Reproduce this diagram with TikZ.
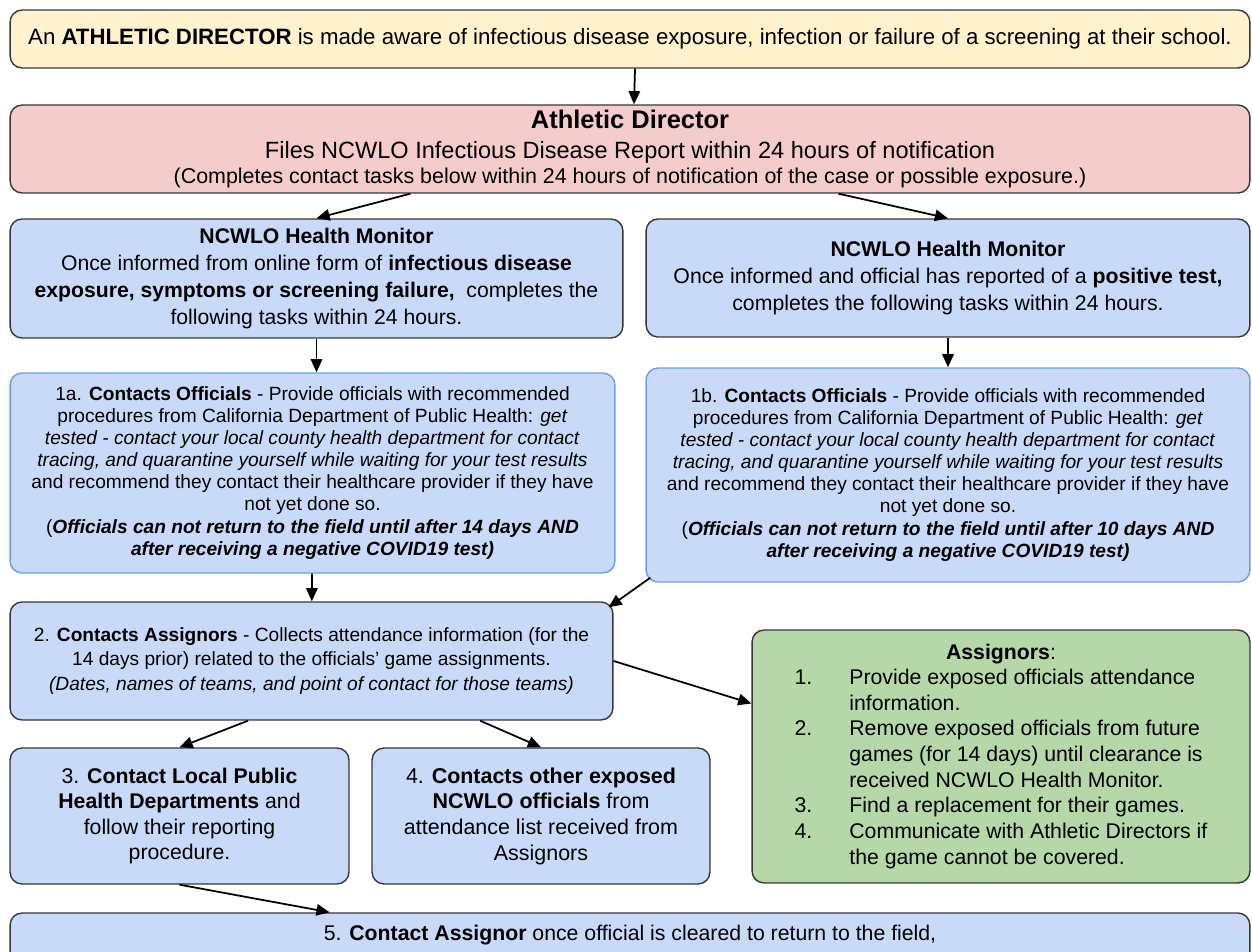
\documentclass[tikz,border=0pt]{standalone}
\usepackage{fontspec}
\setmainfont{Liberation Sans}
\usetikzlibrary{arrows.meta,calc}
\definecolor{Notice}{RGB}{255,242,204}
\definecolor{Director}{RGB}{244,204,204}
\definecolor{Monitor}{RGB}{201,218,248}
\definecolor{Assign}{RGB}{182,215,168}
\definecolor{Edge}{RGB}{55,55,55}
\definecolor{Rim}{RGB}{109,158,235}
\newcommand{\fsz}[2]{\fontsize{#1}{#2}\selectfont}

\begin{document}
\begin{tikzpicture}[x=0.02cm,y=-0.02cm,
  box/.style={draw=Edge,line width=0.8pt,rounded corners=0.24cm,align=center,inner sep=0pt},
  flow/.style={-{Triangle[length=7.5pt,width=6.5pt]},line width=1pt}]
\useasboundingbox (0,0) rectangle (1252,952);

% top notice and director
\node[box,fill=Notice,minimum width=24.8cm,minimum height=1.16cm,font=\fsz{12.65}{15}] (aware) at (630,39)
  {An \textbf{ATHLETIC DIRECTOR} is made aware of infectious disease exposure, infection or failure of a screening at their school.};
\node[box,fill=Director,minimum width=24.8cm,minimum height=1.76cm,font=\fsz{13.4}{17}] (ad) at (630,149)
  {{\fsz{14.5}{17}\textbf{Athletic Director}}\\
   Files NCWLO Infectious Disease Report within 24 hours of notification\\[-2.8pt]
   {\fsz{12.2}{14.3}(Completes contact tasks below within 24 hours of notification of the case or possible exposure.)}};

% health monitor, two cases
\node[box,fill=Monitor,minimum width=12.26cm,minimum height=2.38cm,font=\fsz{12.05}{15.4}] (hmL) at (316.5,278.5)
  {\textbf{NCWLO Health Monitor}\\
   Once informed from online form of \textbf{infectious disease}\\
   \textbf{exposure, symptoms or screening failure,}\ \ completes the\\
   following tasks within 24 hours.};
\node[box,fill=Monitor,minimum width=12.08cm,minimum height=2.36cm,font=\fsz{12.1}{15.4}] (hmR) at (948,278)
  {\textbf{NCWLO Health Monitor}\\
   Once informed and official has reported of a \textbf{positive test,}\\
   completes the following tasks within 24 hours.};

% step 1a / 1b
\node[box,draw=Rim,fill=Monitor,minimum width=12.1cm,minimum height=4cm,font=\fsz{10.9}{12.5}] (c1a) at (312.5,473)
  {1a. \textbf{Contacts Officials} - Provide officials with recommended\\
   procedures from California Department of Public Health: \textit{get}\\
   \textit{tested - contact your local county health department for contact}\\
   \textit{tracing, and quarantine yourself while waiting for your test results}\\
   and recommend they contact their healthcare provider if they have\\
   not yet done so.\\[1pt]
   (\textbf{\textit{Officials can not return to the field until after 14 days AND}}\\
   \textbf{\textit{after receiving a negative COVID19 test)}}};
\node[box,draw=Rim,fill=Monitor,minimum width=12.08cm,minimum height=4.28cm,font=\fsz{10.9}{12.5}] (c1b) at (948,475)
  {1b. \textbf{Contacts Officials} - Provide officials with recommended\\
   procedures from California Department of Public Health: \textit{get}\\
   \textit{tested - contact your local county health department for contact}\\
   \textit{tracing, and quarantine yourself while waiting for your test results}\\
   and recommend they contact their healthcare provider if they have\\
   not yet done so.\\[1pt]
   (\textbf{\textit{Officials can not return to the field until after 10 days AND}}\\
   \textbf{\textit{after receiving a negative COVID19 test)}}};

% step 2 and assignors
\node[box,fill=Monitor,minimum width=12.06cm,minimum height=2.36cm,font=\fsz{10.9}{13.7}] (c2) at (311.5,661)
  {2. \textbf{Contacts Assignors} - Collects attendance information (for the\\
   14 days prior) related to the officials' game assignments.\\
   \textit{(Dates, names of teams, and point of contact for those teams)}};
\node[box,fill=Assign,minimum width=9.96cm,minimum height=5.06cm,font=\fsz{12.1}{14.6}] (asg) at (1001,756.5)
  {\begin{tabular}{@{}l@{\hspace{0.74cm}}l@{}}
   \multicolumn{2}{c}{\textbf{Assignors}:}\\
   1. & Provide exposed officials attendance\\
      & information.\\
   2. & Remove exposed officials from future\\
      & games (for 14 days) until clearance is\\
      & received NCWLO Health Monitor.\\
   3. & Find a replacement for their games.\\
   4. & Communicate with Athletic Directors if\\
      & the game cannot be covered.
   \end{tabular}};

% steps 3, 4, 5
\node[box,fill=Monitor,minimum width=6.78cm,minimum height=2.72cm,font=\fsz{12.1}{14.6}] (c3) at (179.5,816)
  {3. \textbf{Contact Local Public}\\
   \textbf{Health Departments} and\\
   follow their reporting\\
   procedure.};
\node[box,fill=Monitor,minimum width=6.76cm,minimum height=2.72cm,font=\fsz{12.2}{14.6}] (c4) at (541,816)
  {4. \textbf{Contacts other exposed}\\
   \textbf{NCWLO officials} from\\
   attendance list received from\\
   Assignors};
\node[box,fill=Monitor,anchor=base,minimum width=24.8cm,text height=0.56cm,text depth=1.5cm,font=\fsz{12.1}{14.6}] (c5) at (630,941)
  {5. \textbf{Contact Assignor} once official is cleared to return to the field,};

% connectors
\draw[flow] ([xshift=0.1cm]aware.south) -- ([xshift=0.08cm]ad.north);
\draw[flow] ($(ad.south west)!0.323!(ad.south east)$) -- (hmL.north);
\draw[flow] ($(ad.south west)!0.668!(ad.south east)$) -- (hmR.north);
\draw[flow] (hmL.south) -- (hmL.south |- c1a.north);
\draw[flow] (hmR) -- (c1b);
\draw[flow] (c1a) -- (c2);
\draw[flow] ([xshift=0.1cm,yshift=0.1cm]c1b.south west) -- ([xshift=-0.1cm,yshift=-0.12cm]c2.north east);
\draw[flow] (c2.east) -- ([yshift=1.06cm]asg.west);
\draw[flow] ($(c2.south west)!0.395!(c2.south east)$) -- (c3.north);
\draw[flow] ($(c2.south west)!0.779!(c2.south east)$) -- (c4.north);
\draw[flow] (c3.south) -- ($(c5.north west)!0.258!(c5.north east)$);
\end{tikzpicture}
\end{document}
